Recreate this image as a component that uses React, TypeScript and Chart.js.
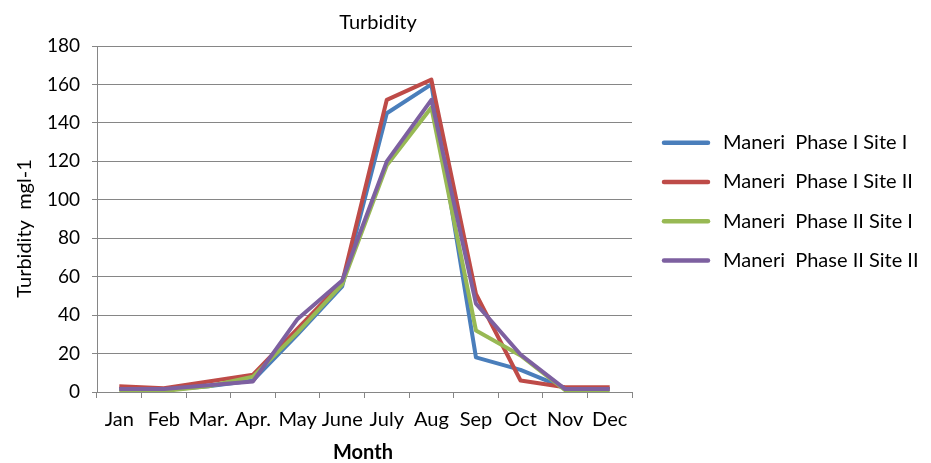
import React, { useEffect, useRef } from "react";
import { Chart, registerables } from "chart.js";
Chart.register(...registerables);

const months = ["Jan", "Feb", "Mar.", "Apr.", "May", "June", "July", "Aug", "Sep", "Oct", "Nov", "Dec"];
const seriesNames = [
  "Maneri  Phase I Site I",
  "Maneri  Phase I Site II",
  "Maneri  Phase II Site I",
  "Maneri  Phase II Site II",
];
const phase1Site1 = [1.5, 1, 3, 6, 30, 55, 145, 160, 18, 11.5, 2, 1.5];
const phase1Site2 = [3, 2, 5.5, 9, 33, 57, 152, 162.5, 51, 6, 2.5, 2.5];
const phase2Site1 = [0.5, 0.5, 3, 8, 31, 56, 118, 148, 32, 19, 1, 0.5];
const phase2Site2 = [1.5, 1.5, 3.5, 5.5, 38, 58, 120, 152, 46, 19.5, 1.5, 1.5];
const yTicks = [0, 20, 40, 60, 80, 100, 120, 140, 160, 180];
const chartTitle = "Turbidity";
const xTitle = "Month";
const yTitle = "Turbidity  mgl-1";

const colors = ["#4A7EBB", "#BE4B48", "#98B954", "#7D60A0"];
const FONT = "Lato, 'Liberation Sans', sans-serif";
const GRID = "#868686";

const overlay = {
  id: "overlay",
  afterDraw(chart: any) {
    const ctx = chart.ctx;
    ctx.save();
    ctx.fillStyle = "#000";
    ctx.textAlign = "center";
    ctx.textBaseline = "middle";
    ctx.font = `20px ${FONT}`;
    ctx.fillText(chartTitle, 378, 23);
    ctx.font = `bold 20px ${FONT}`;
    ctx.fillText(xTitle, 363, 453);
    ctx.save();
    ctx.translate(24.5, 228.5);
    ctx.rotate(-Math.PI / 2);
    ctx.font = `20px ${FONT}`;
    ctx.fillText(yTitle, 0, 0);
    ctx.restore();
    chart.data.datasets.forEach((ds: any, i: number) => {
      const y = 142.7 + i * 39.3;
      ctx.strokeStyle = ds.borderColor;
      ctx.lineWidth = 4.5;
      ctx.lineCap = "round";
      ctx.beginPath();
      ctx.moveTo(664, y);
      ctx.lineTo(708, y);
      ctx.stroke();
      ctx.textAlign = "left";
      ctx.font = `20px ${FONT}`;
      ctx.fillText(ds.label, 723, y);
    });
    ctx.restore();
  },
};

export default function App() {
  const ref = useRef<HTMLCanvasElement>(null);
  useEffect(() => {
    if (!ref.current) return;
    const series = [phase1Site1, phase1Site2, phase2Site1, phase2Site2];
    const chart = new Chart(ref.current, {
      type: "line",
      data: {
        labels: months,
        datasets: series.map((d, i) => ({
          label: seriesNames[i],
          data: d,
          borderColor: colors[i],
          backgroundColor: colors[i],
          borderWidth: 4,
          pointRadius: 0,
          tension: 0,
          borderJoinStyle: "round" as const,
          order: 4 - i,
        })),
      },
      options: {
        responsive: false,
        animation: false,
        layout: { padding: { left: 0, top: 46, right: 299, bottom: 0 } },
        plugins: { legend: { display: false }, tooltip: { enabled: false }, title: { display: false } },
        scales: {
          x: {
            type: "category",
            offset: true,
            grid: { offset: true, drawOnChartArea: false, drawTicks: true, tickLength: 6, color: GRID },
            border: { color: GRID, width: 1 },
            ticks: { font: { family: FONT, size: 20 }, color: "#000", padding: 10, maxRotation: 0, autoSkip: false },
            title: { display: false },
            afterFit: (s: any) => { s.height = 71; },
          },
          y: {
            min: 0,
            max: 180,
            afterBuildTicks: (s: any) => { s.ticks = yTicks.map((v) => ({ value: v })); },
            grid: { color: GRID, tickLength: 5, drawTicks: true },
            border: { color: GRID, width: 1 },
            ticks: { font: { family: FONT, size: 19 }, color: "#000", padding: 12 },
            title: { display: false },
            afterFit: (s: any) => { s.width = 97; },
          },
        },
      },
      plugins: [overlay],
    });
    return () => chart.destroy();
  }, []);
  return (
    <div style={{ position: "fixed", left: 0, top: 0, width: 931, height: 463, background: "#fff" }}>
      <canvas ref={ref} width={931} height={463} style={{ display: "block" }} />
    </div>
  );
}
